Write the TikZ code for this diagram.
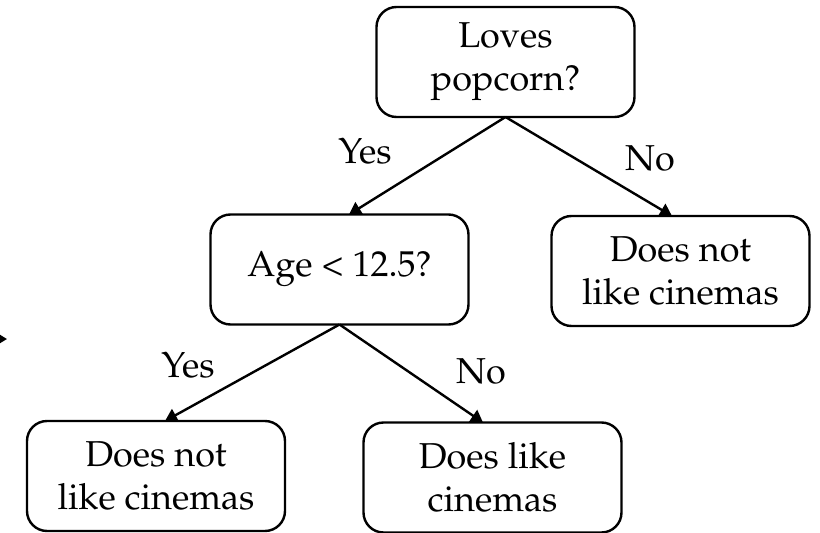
\documentclass[tikz,border=0pt]{standalone}
\usepackage[T1]{fontenc}
\usepackage{mathpazo}
\usetikzlibrary{arrows.meta}
\begin{document}
\begin{tikzpicture}[x=1pt,y=-1pt,
  txt/.style={font=\fontsize{36}{43}\selectfont},
  box/.style={txt,draw,line width=2.4pt,rounded corners=20pt,align=center,
    minimum width=258pt,minimum height=110pt,inner sep=0pt,outer sep=0pt},
  link/.style={line width=2.4pt,-{Triangle[length=12pt,width=14pt]}},
  lbl/.style={txt,inner sep=0pt}]
\useasboundingbox (0,0) rectangle (820,533);

% decision and leaf boxes
\node[box] (root)  at (505.5,62)  {Loves\\popcorn?};
\node[box] (age)   at (339.5,269.5) {Age < 12.5?};
\node[box] (noR)   at (680.5,271) {Does not\\like cinemas};
\node[box] (noL)   at (156,476)   {Does not\\like cinemas};
\node[box] (yesM)  at (492.5,477.5) {Does like\\cinemas};

% branches
\draw[link] (root.south) -- ([xshift=9.5pt]age.north);
\draw[link] (root.south) -- ([xshift=-8.5pt]noR.north);
\draw[link] (age.south) -- ([xshift=9pt]noL.north);
\draw[link] (age.south) -- ([xshift=-9.5pt]yesM.north);

% branch labels
\node[lbl] (y1) at (365,151) {Yes};
\node[lbl] (n1) at (650,158) {No};
\node[lbl] (y2) at (188,365) {Yes};
\node[lbl] (n2) at (481,371) {No};

% incoming arrow at the left edge
\coordinate (inA) at (-40,339);
\coordinate (inB) at (7,339);
\draw[link] (inA) -- (inB);
\end{tikzpicture}
\end{document}
